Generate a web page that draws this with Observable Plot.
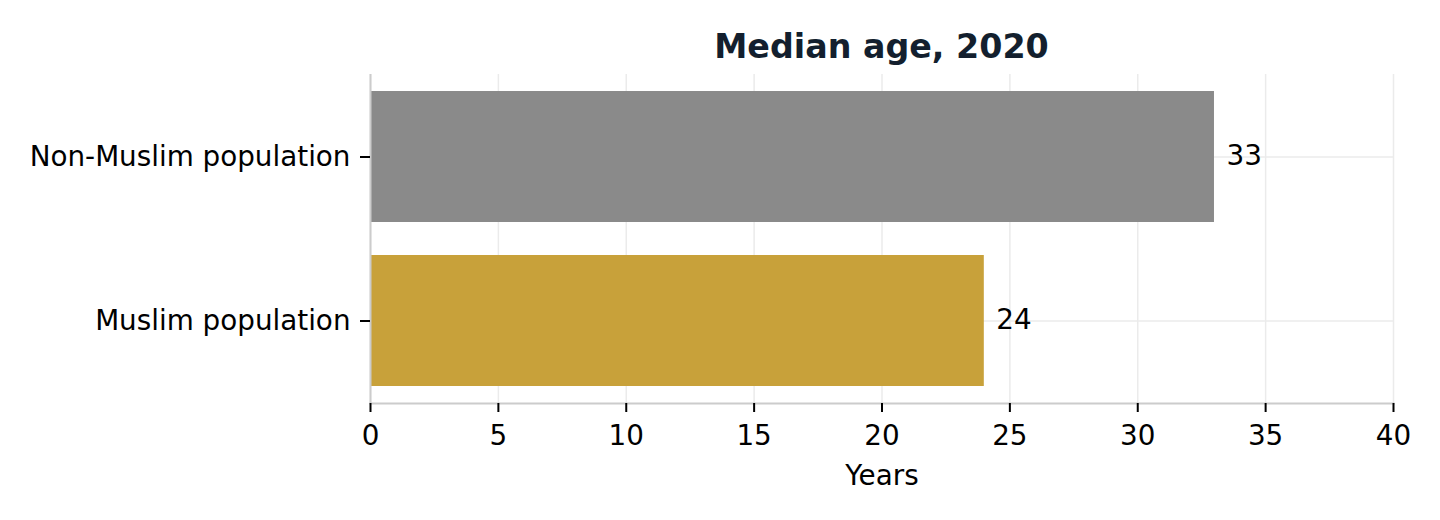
<!DOCTYPE html>
<html>
<head>
<meta charset="utf-8">
<script src="https://cdn.jsdelivr.net/npm/d3@7"></script>
<script src="https://cdn.jsdelivr.net/npm/@observablehq/plot@0.6"></script>
<style>
  html, body { margin: 0; padding: 0; background: #fff; }
  #title {
    box-sizing: border-box;
    height: 74px;
    padding: 28px 47px 0 370px;
    text-align: center;
    font-family: "DejaVu Sans", sans-serif;
    font-weight: bold;
    font-size: 33.3px;
    line-height: 38px;
    color: #131f2e;
  }
</style>
</head>
<body>
<div id="title">Median age, 2020</div>
<div id="chart"></div>
<script>
const categories = ["Non-Muslim population", "Muslim population"];
const values = [33, 24];
const colors = ["#8a8a8a", "#c8a13a"];
const xTicks = [0, 5, 10, 15, 20, 25, 30, 35, 40];

const data = categories.map((c, i) => ({category: c, value: values[i], color: colors[i]}));

const plot = Plot.plot({
  width: 1440,
  height: 446,
  marginTop: 0,
  marginBottom: 117,
  marginLeft: 370,
  marginRight: 47,
  style: {fontFamily: "DejaVu Sans, sans-serif", fontSize: "27.8px", color: "#000", background: "#fff"},
  x: {domain: [0, 40], ticks: xTicks},
  y: {domain: categories, paddingInner: 0.2, paddingOuter: 0.1},
  marks: [
    Plot.gridX(xTicks, {stroke: "#ebebeb", strokeOpacity: 1, strokeWidth: 1.5}),
    Plot.gridY(categories, {stroke: "#ebebeb", strokeOpacity: 1, strokeWidth: 1.5}),
    Plot.barX(data, {x: "value", y: "category", fill: "color"}),
    Plot.text(data, {x: "value", y: "category", text: d => String(d.value), dx: 12, dy: -1, textAnchor: "start", fill: "#000", fontSize: 27.8}),
    Plot.ruleX([0], {stroke: "#cccccc", strokeWidth: 2}),
    Plot.frame({anchor: "bottom", stroke: "#cccccc", strokeWidth: 2}),
    Plot.axisX({ticks: xTicks, tickSize: 9, tickPadding: 13, stroke: "#000", strokeWidth: 2, label: "Years", labelAnchor: "center", labelArrow: "none", labelOffset: 81, fill: "#000"}),
    Plot.axisY({tickSize: 10, tickPadding: 10, stroke: "#000", strokeWidth: 2, label: null, fill: "#000"})
  ]
});
document.getElementById("chart").appendChild(plot);
</script>
</body>
</html>
